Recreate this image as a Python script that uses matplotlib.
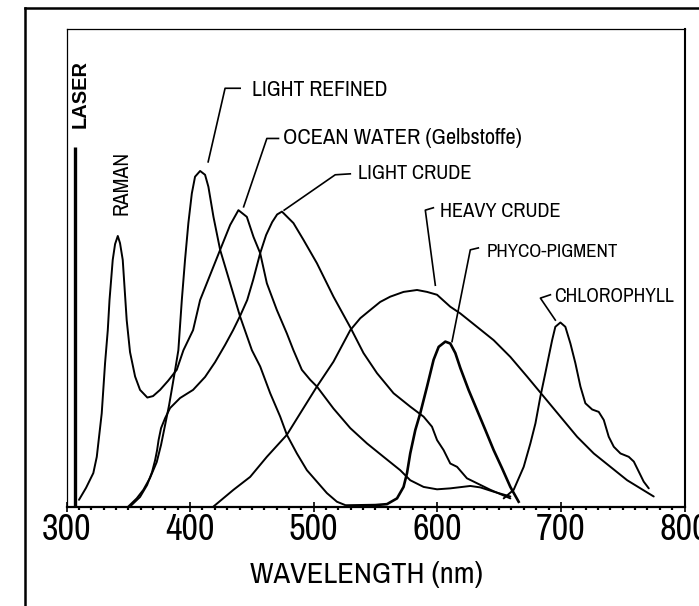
import matplotlib
matplotlib.use("Agg")
import matplotlib.pyplot as plt
from matplotlib import font_manager
from matplotlib.lines import Line2D

# ---------------- data ----------------
ocean_x = [310.1, 315.8, 321.7, 324.5, 328.5, 331.2, 333.4, 334.8, 337.4, 339.3, 341.5,
           343.3, 345.5, 348.7, 351.4, 355.5, 359.5, 365.4, 370.0, 375.7, 382.2, 389.2,
           394.6, 402.4, 408.1, 424.3, 432.4, 439.1, 445.9, 451.3, 456.7, 462.1, 470.2,
           478.3, 483.6, 490.4, 497.2, 502.6, 516.0, 529.6, 543.1, 556.5, 570.0, 578.1,
           588.9, 599.8, 610.5, 626.7, 634.8, 645.6, 659.1]
ocean_y = [1.5, 4.0, 7.1, 10.5, 19.6, 30.1, 37.0, 43.3, 51.7, 55.0, 56.7,
           55.2, 51.7, 39.1, 32.4, 27.3, 24.5, 22.9, 23.2, 24.5, 26.4, 28.7,
           32.8, 37.0, 43.3, 53.8, 59.0, 62.1, 60.7, 56.5, 53.1, 46.8, 41.2,
           36.3, 32.8, 28.7, 26.6, 25.2, 20.6, 16.5, 13.3, 10.5, 7.7, 5.6,
           4.2, 3.7, 3.9, 4.4, 4.1, 3.2, 2.2]

refined_x = [350.0, 356.8, 362.2, 367.6, 373.0, 376.5, 379.8, 383.0, 385.4, 387.9, 390.5,
             393.3, 395.9, 398.6, 401.4, 404.0, 408.1, 412.1, 414.8, 418.9, 424.3, 432.4,
             440.5, 450.0, 456.7, 464.8, 472.9, 478.3, 486.4, 494.5, 502.6, 510.7, 518.8, 525.5]
refined_y = [0.1, 1.8, 3.6, 6.1, 9.4, 13.0, 17.2, 21.3, 24.9, 28.7, 32.8,
             43.3, 51.7, 59.4, 65.6, 69.1, 70.3, 69.5, 67.0, 60.7, 53.8, 46.8,
             39.8, 32.8, 29.4, 23.8, 18.9, 15.1, 11.2, 7.7, 5.3, 2.9, 1.1, 0.4]

lcrude_x = [352.2, 359.5, 365.2, 369.2, 371.7, 373.3, 374.5, 376.5, 379.8, 383.8, 391.9,
            402.4, 412.1, 420.2, 428.3, 434.8, 440.5, 446.2, 451.0, 456.7, 461.5, 466.4,
            470.4, 474.3, 483.6, 491.7, 502.6, 516.0, 529.6, 540.3, 551.2, 564.6, 578.1,
            588.9, 595.7, 599.8, 605.1, 610.5, 616.0, 624.0, 642.9, 659.1]
lcrude_y = [0.3, 2.1, 4.6, 7.3, 9.8, 11.9, 14.0, 16.5, 18.6, 20.7, 22.8,
            24.5, 27.2, 30.3, 33.9, 37.0, 40.0, 43.3, 47.5, 53.1, 56.9, 59.6,
            61.2, 61.8, 59.4, 55.9, 51.0, 44.0, 37.6, 32.2, 28.0, 23.8, 21.0,
            18.9, 16.8, 14.0, 11.9, 9.1, 8.4, 6.0, 3.6, 1.8]

hcrude_x = [418.9, 435.1, 448.6, 462.1, 478.3, 489.1, 502.6, 516.0, 529.6, 537.7, 545.7,
            553.8, 561.9, 572.7, 583.6, 591.7, 599.8, 610.5, 618.6, 632.1, 645.6, 659.1,
            672.6, 686.1, 699.6, 713.1, 726.6, 740.1, 753.6, 775.1]
hcrude_y = [0.1, 3.6, 6.3, 10.5, 15.1, 19.6, 25.2, 30.4, 37.0, 39.5, 41.2,
            42.9, 44.0, 45.0, 45.4, 45.0, 44.4, 41.9, 40.5, 37.7, 34.9, 31.4,
            27.3, 23.1, 18.9, 14.7, 11.2, 8.4, 5.6, 2.2]

phyco_x = [526.9, 549.8, 559.3, 567.4, 572.7, 575.5, 578.1, 582.2, 586.2, 591.7, 597.0,
           601.1, 606.5, 610.5, 614.6, 618.6, 625.3, 632.1, 638.9, 645.6, 652.4, 659.1, 665.8]
phyco_y = [0.3, 0.4, 0.6, 1.8, 4.2, 7.1, 11.2, 16.1, 19.6, 25.2, 30.8,
           33.5, 34.6, 34.2, 32.2, 29.1, 24.5, 20.3, 16.1, 11.9, 8.1, 4.2, 1.1]

chl_x = [653.7, 661.8, 669.9, 675.3, 679.4, 683.4, 687.4, 690.1, 692.9, 695.5, 699.6,
         703.6, 707.7, 711.7, 715.8, 719.8, 725.3, 730.6, 734.7, 738.7, 742.8, 748.2,
         754.9, 759.0, 763.0, 767.0, 771.1]
chl_y = [1.8, 3.6, 8.4, 13.3, 17.5, 23.1, 28.0, 31.4, 34.9, 37.7, 38.6,
         37.7, 34.2, 30.1, 25.2, 21.7, 20.4, 19.9, 18.2, 14.7, 12.6, 11.2,
         10.5, 9.5, 7.4, 5.3, 3.9]

laser_x = 307.0
laser_top = 75.3

labels = ["LIGHT REFINED", "OCEAN WATER (Gelbstoffe)", "LIGHT CRUDE",
          "HEAVY CRUDE", "PHYCO-PIGMENT", "CHLOROPHYLL"]
label_pos = [(450.2, 87.3), (475.3, 77.1), (536.0, 69.7),
             (602.4, 61.9), (640.2, 53.4), (694.2, 44.0)]
label_width_px = [136, 238, 114, 121, 132, 120]
leaders = [
    ([414.6, 428.3, 440.5], [72.2, 87.6, 87.6]),
    ([443.3, 462.1, 471.5], [62.8, 77.1, 77.1]),
    ([476.1, 517.4, 529.6], [62.1, 69.5, 69.7]),
    ([598.4, 590.3, 596.8], [46.4, 62.1, 62.6]),
    ([611.9, 626.7, 633.2], [34.6, 53.8, 54.2]),
    ([695.5, 683.4, 691.5], [39.1, 43.7, 44.4]),
]
xticks = [300, 400, 500, 600, 700, 800]
xtick_labels = ["300", "400", "500", "600", "700", "800"]
xlabel = "WAVELENGTH (nm)"

# ---------------- fonts: prefer a narrow face ----------------
names = {f.name for f in font_manager.fontManager.ttflist}
narrow = [n for n in sorted(names) if ("Narrow" in n or "Condensed" in n)]
if "Liberation Sans Narrow" in names:
    FAM = ["Liberation Sans Narrow", "DejaVu Sans"]
elif narrow:
    FAM = [narrow[0], "DejaVu Sans"]
elif "Liberation Sans" in names:
    FAM = ["Liberation Sans", "DejaVu Sans"]
else:
    FAM = ["DejaVu Sans"]
BOLD_FAM = ["Liberation Sans", "DejaVu Sans"] if "Liberation Sans" in names else ["DejaVu Sans"]
plt.rcParams["font.family"] = FAM

# ---------------- figure ----------------
fig = plt.figure(figsize=(6.99, 6.06), dpi=100)
ax = fig.add_axes([66.5 / 699, 99 / 606, 618 / 699, 478 / 606])
ax.set_xlim(300, 800)
ax.set_ylim(0, 100)

lw = 1.4
for xs, ys in [(ocean_x, ocean_y), (refined_x, refined_y), (lcrude_x, lcrude_y),
               (hcrude_x, hcrude_y), (chl_x, chl_y)]:
    ax.plot(xs, ys, color="black", lw=lw, solid_joinstyle="round", solid_capstyle="round")
ax.plot(phyco_x, phyco_y, color="black", lw=1.9, solid_joinstyle="round")

# laser line
ax.plot([laser_x, laser_x], [0, laser_top], color="black", lw=2.4, solid_capstyle="butt")

# labels and leaders
label_texts = []
for (lx, ly), txt in zip(label_pos, labels):
    label_texts.append(ax.text(lx, ly, txt, ha="left", va="center", fontsize=14))
for xs, ys in leaders:
    ax.plot(xs, ys, color="black", lw=1.2)

t_laser = ax.text(311.3, 86.4, "LASER", rotation=90, ha="center", va="center",
                  fontsize=17, fontweight="bold", family=BOLD_FAM)
t_raman = ax.text(344.9, 67.7, "RAMAN", rotation=90, ha="center", va="center",
                  fontsize=15)

# axes styling
ax.set_yticks([])
ax.set_xticks(xticks)
ax.set_xticklabels(xtick_labels, fontsize=22)
ax.set_xticks(range(300, 801, 10), minor=True)
ax.tick_params(axis="x", which="major", direction="inout", length=7, width=1.2, pad=1)
ax.tick_params(axis="x", which="minor", direction="out", length=2.0, width=1.6)
for s in ["left", "top"]:
    ax.spines[s].set_linewidth(0.9)
ax.spines["right"].set_linewidth(1.5)
ax.spines["bottom"].set_linewidth(1.6)

ax.set_xlabel(xlabel, fontsize=21)
ax.xaxis.set_label_coords(0.4854, -0.113)
ax.xaxis.label.set_va("top")

# fit text sizes to the widths measured on the reference
fig.canvas.draw()
r = fig.canvas.get_renderer()
for t, w in zip(label_texts, label_width_px):
    t.set_fontsize(t.get_fontsize() * w / t.get_window_extent(r).width)
t_laser.set_fontsize(t_laser.get_fontsize() * 68 / t_laser.get_window_extent(r).height)
t_raman.set_fontsize(t_raman.get_fontsize() * 64 / t_raman.get_window_extent(r).height)
tl = ax.get_xticklabels()[0]
tick_fs = min(26.0, tl.get_fontsize() * 51 / tl.get_window_extent(r).width)
ax.tick_params(axis="x", which="major", labelsize=tick_fs)
xl = ax.xaxis.label
xl.set_fontsize(xl.get_fontsize() * 232 / xl.get_window_extent(r).width)

# outer frame lines
fig.add_artist(Line2D([25 / 699, 25 / 699], [0, 1 - 8 / 606], color="black", lw=1.8,
                      transform=fig.transFigure))
fig.add_artist(Line2D([25 / 699, 1.0], [1 - 8 / 606, 1 - 8 / 606], color="black", lw=1.8,
                      transform=fig.transFigure))

fig.savefig("out.png", dpi=100)
